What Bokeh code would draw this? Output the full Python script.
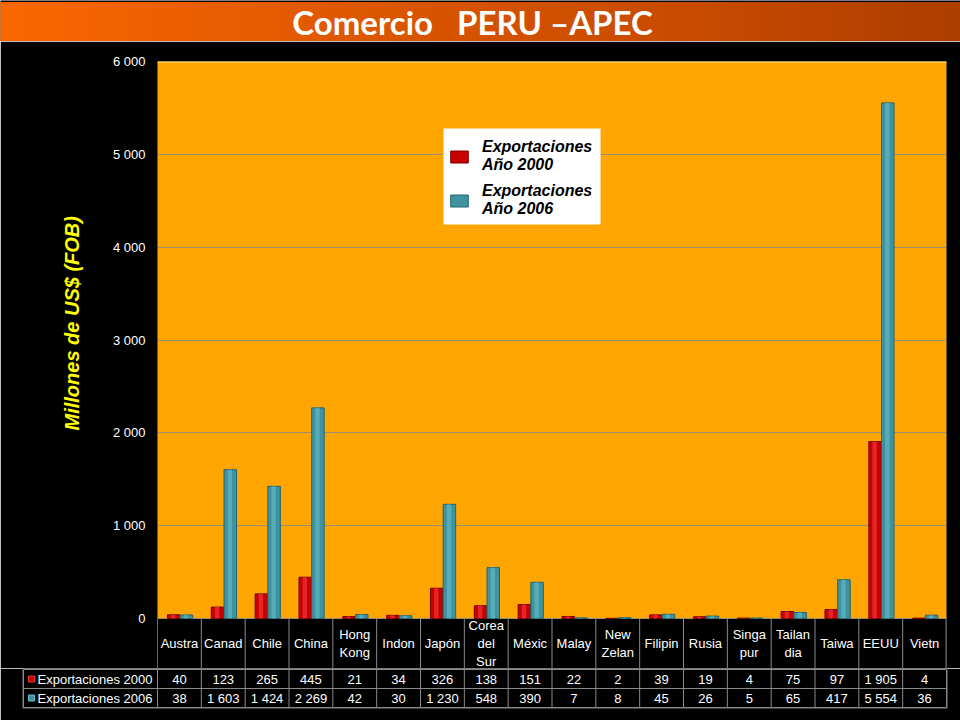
from bokeh.plotting import figure
from bokeh.layouts import column
from bokeh.models import (ColumnDataSource, FactorRange, Range1d, FixedTicker,
                          Legend, LegendItem, Title, BoxAnnotation, Span)
from bokeh.transform import dodge
from bokeh.core.properties import value
from bokeh.embed import file_html
from bokeh.resources import INLINE

# data
categories = ["Austra", "Canad", "Chile", "China", "Hong Kong", "Indon", "Japón",
              "Corea del Sur", "Méxic", "Malay", "New Zelan", "Filipin", "Rusia",
              "Singa pur", "Tailan dia", "Taiwa", "EEUU", "Vietn"]
header_labels = ["Austra", "Canad", "Chile", "China", "Hong\nKong", "Indon", "Japón",
                 "Corea\ndel\nSur", "Méxic", "Malay", "New\nZelan", "Filipin", "Rusia",
                 "Singa\npur", "Tailan\ndia", "Taiwa", "EEUU", "Vietn"]
exp_2000 = [40, 123, 265, 445, 21, 34, 326, 138, 151, 22, 2, 39, 19, 4, 75, 97, 1905, 4]
exp_2006 = [38, 1603, 1424, 2269, 42, 30, 1230, 548, 390, 7, 8, 45, 26, 5, 65, 417, 5554, 36]
row_names = ["Exportaciones 2000", "Exportaciones 2006"]
legend_labels = ["Exportaciones\nAño 2000", "Exportaciones\nAño 2006"]
y_ticks = [0, 1000, 2000, 3000, 4000, 5000, 6000]
title_text = "Comercio\u00a0\u00a0\u00a0PERU –APEC"
y_label = "Millones de US$ (FOB)"

RED, RED_LT, RED_DK = "#C80000", "#EC3434", "#7A0000"
TEAL, TEAL_LT, TEAL_DK = "#3F93A0", "#66BCC6", "#24646E"
ORANGE = "#FFA500"
GRID = "#9C8C70"
CELL = "#8A8A8A"
FONT = "Liberation Sans"
W = 960


def fmt(v):
    return f"{v:,}".replace(",", " ")


def base_fig(**kw):
    f = figure(output_backend="svg", toolbar_location=None,
               x_axis_location=None, frame_align=False, **kw)
    f.background_fill_color = "black"
    f.border_fill_color = "black"
    f.outline_line_color = None
    return f


# ---- title bar
tp = base_fig(width=W, height=41, x_range=Range1d(0, W), y_range=Range1d(0, 41),
              y_axis_location=None, min_border=0)
tp.grid.visible = False
stops = [(0.0, (250, 104, 0)), (0.45, (216, 84, 0)), (0.75, (198, 74, 0)), (1.0, (172, 62, 0))]
n = 120
lefts, rights, cols = [], [], []
for i in range(n):
    t = (i + 0.5) / n
    for (a, ca), (b, cb) in zip(stops[:-1], stops[1:]):
        if a <= t <= b:
            f = (t - a) / (b - a)
            c = tuple(int(ca[k] + (cb[k] - ca[k]) * f) for k in range(3))
            break
    lefts.append(W * i / n)
    rights.append(W * (i + 1) / n)
    cols.append("#%02x%02x%02x" % c)
tp.quad(left=lefts, right=rights, bottom=1, top=39, fill_color=cols, line_color=cols)
tp.text(x=[472], y=[20], text=[title_text], text_align="center", text_baseline="middle",
        text_color="white", text_font=value("Lato"), text_font_style="bold",
        text_font_size="33px")

# ---- chart
px_unit = 6000 / 557
head_h = 50 * px_unit
p = base_fig(width=W, height=627, x_range=FactorRange(factors=categories, range_padding=0),
             y_range=Range1d(-head_h, 6000),
             min_border_left=157, min_border_right=14, min_border_top=20, min_border_bottom=0)
p.add_layout(BoxAnnotation(bottom=0, top=6000, fill_color=ORANGE, fill_alpha=1,
                           line_color=None, level="image"))
p.add_layout(Span(location=6000, dimension="width", line_color="#FFD040", line_width=3))
p.xgrid.visible = False
p.ygrid.ticker = FixedTicker(ticks=y_ticks)
p.ygrid.grid_line_color = GRID
p.yaxis.ticker = FixedTicker(ticks=y_ticks)
p.yaxis.major_label_overrides = {t: fmt(t) for t in y_ticks}
p.yaxis.major_label_text_color = "white"
p.yaxis.major_label_text_font = FONT
p.yaxis.major_label_text_font_size = "13px"
p.yaxis.major_label_standoff = 6
p.yaxis.axis_line_color = None
p.yaxis.major_tick_line_color = None
p.yaxis.minor_tick_line_color = None
p.add_layout(Title(text=y_label, align="left", offset=238, standoff=54,
                   text_color="#FFFF00", text_font=FONT, text_font_size="20px",
                   text_font_style="bold italic"), "left")

src = ColumnDataSource(dict(cat=categories, hdr=header_labels,
                            e2000=exp_2000, e2006=exp_2006))
r1 = p.vbar(x=dodge("cat", -0.13, range=p.x_range), top="e2000", width=0.285, source=src,
            fill_color=RED, line_color=RED_DK)
p.vbar(x=dodge("cat", -0.14, range=p.x_range), top="e2000", width=0.1, source=src,
       fill_color=RED_LT, fill_alpha=0.7, line_color=None)
r2 = p.vbar(x=dodge("cat", 0.16, range=p.x_range), top="e2006", width=0.285, source=src,
            fill_color=TEAL, line_color=TEAL_DK)
p.vbar(x=dodge("cat", 0.15, range=p.x_range), top="e2006", width=0.1, source=src,
       fill_color=TEAL_LT, fill_alpha=0.6, line_color=None)

# white panel behind the legend (slightly larger than bokeh's own legend box)
p.quad(left=[("Japón", 0.025)], right=[("New Zelan", -0.393)],
       bottom=394 * px_unit, top=490 * px_unit, fill_color="white", line_color=None)

legend = Legend(items=[LegendItem(label=legend_labels[0], renderers=[r1]),
                       LegendItem(label=legend_labels[1], renderers=[r2])],
                location=(291, 450))
legend.background_fill_color = "white"
legend.background_fill_alpha = 1
legend.border_line_color = None
legend.label_text_font = FONT
legend.label_text_font_style = "bold italic"
legend.label_text_font_size = "16px"
legend.label_text_line_height = 1.2
legend.label_text_color = "black"
legend.glyph_width = 22
legend.glyph_height = 15
legend.label_standoff = 12
legend.padding = 13
legend.spacing = 8
legend.margin = 0
p.add_layout(legend)

# header row of the data table
p.segment(x0=dodge("cat", -0.5, range=p.x_range), y0=-head_h,
          x1=dodge("cat", -0.5, range=p.x_range), y1=0, source=src,
          line_color=CELL, line_width=1)
p.segment(x0=[(categories[-1], 0.49)], y0=[-head_h], x1=[(categories[-1], 0.49)], y1=[0],
          line_color=CELL, line_width=1)
p.text(x="cat", y=-head_h / 2, text="hdr", source=src, text_align="center",
       text_baseline="middle", text_color="white", text_font=value(FONT),
       text_font_size="13px", text_line_height=1.2)

# ---- table rows
cw = 789 / 18
label_w = 134 / cw
nc = len(categories)
t = base_fig(width=W, height=52,
             x_range=Range1d(-label_w - 1 / cw, nc + 1 / cw),
             y_range=Range1d(-1 / 19, 2 + 1 / 19),
             y_axis_location=None,
             min_border_left=22, min_border_right=13, min_border_top=0, min_border_bottom=12)
t.grid.visible = False
xs = [-label_w] + list(range(nc + 1))
t.segment(x0=xs, y0=0, x1=xs, y1=2, line_color=CELL, line_width=1)
t.segment(x0=-label_w, y0=[0, 1, 2], x1=nc, y1=[0, 1, 2], line_color=CELL, line_width=1)
centers = [i + 0.5 for i in range(nc)]
for row_y, vals in ((1.5, exp_2000), (0.5, exp_2006)):
    t.text(x=centers, y=row_y, text=[fmt(v) for v in vals], text_align="center",
           text_baseline="middle", text_color="white", text_font=value(FONT),
           text_font_size="13px")
t.scatter(x=-label_w + 8 / cw, y=[1.5, 0.5], marker="square", size=6,
          fill_color=[RED, TEAL], line_color=[RED_LT, TEAL_LT])
t.text(x=-label_w + 14 / cw, y=[1.5, 0.5], text=row_names, text_align="left",
       text_baseline="middle", text_color="white", text_font=value(FONT),
       text_font_size="13px")

layout = column(tp, p, t, spacing=0)
html = file_html(layout, INLINE)
html = html.replace("<body>", '<body style="background-color:#000000;margin:0;">', 1)
open("out.html", "w").write(html)
